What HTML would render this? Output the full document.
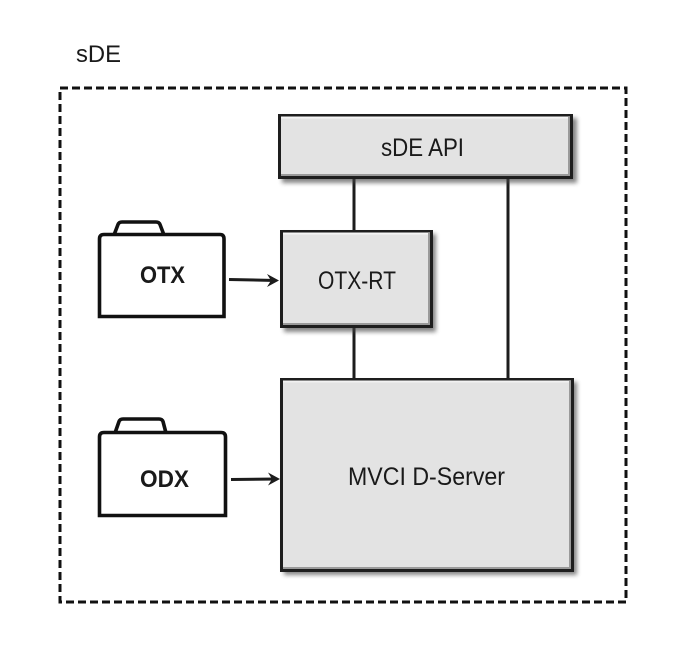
<!DOCTYPE html>
<html>
<head>
<meta charset="utf-8">
<style>
html,body{margin:0;padding:0;background:#fff;width:673px;height:649px;overflow:hidden}
svg{display:block}
text{font-family:"Liberation Sans",sans-serif;fill:#1a1a1a}
</style>
</head>
<body>
<svg width="673" height="649" viewBox="0 0 673 649" xmlns="http://www.w3.org/2000/svg">
<defs>
<filter id="s" x="-10%" y="-10%" width="125%" height="125%">
<feGaussianBlur stdDeviation="2.200"/>
</filter>
</defs>
<rect width="673" height="649" fill="#fff"/>
<text x="76" y="62" font-size="24" textLength="45" lengthAdjust="spacingAndGlyphs">sDE</text>
<rect x="60" y="88" width="566" height="514" fill="none" stroke="#111" stroke-width="3" stroke-dasharray="8 4"/>

<!-- connectors -->
<path d="M354 179V230M354 328V378M508 179V378" stroke="#1c1c1c" stroke-width="3" fill="none"/>

<!-- sDE API -->
<rect x="282" y="118" width="295" height="65" fill="#444" opacity=".65" filter="url(#s)"/>
<rect x="279.500" y="115.500" width="292" height="62" fill="#e3e3e3" stroke="#1e1e1e" stroke-width="3"/>
<path d="M281 117.500H570" stroke="#f5f5f5" stroke-width="2"/>
<path d="M281 175H570M569 117V176" stroke="#9a9a9a" stroke-width="2"/>
<text x="381" y="156" font-size="25" textLength="83" lengthAdjust="spacingAndGlyphs">sDE API</text>

<!-- OTX-RT -->
<rect x="284" y="234" width="152" height="98" fill="#444" opacity=".65" filter="url(#s)"/>
<rect x="281.500" y="231.500" width="150" height="95" fill="#e3e3e3" stroke="#1e1e1e" stroke-width="3"/>
<path d="M283 233.500H430" stroke="#f5f5f5" stroke-width="2"/>
<path d="M283 324H430M429 233V325" stroke="#9a9a9a" stroke-width="2"/>
<text x="318" y="289" font-size="25" textLength="78" lengthAdjust="spacingAndGlyphs">OTX-RT</text>

<!-- MVCI -->
<rect x="284" y="382" width="293" height="193" fill="#444" opacity=".65" filter="url(#s)"/>
<rect x="281.500" y="379.500" width="291" height="191" fill="#e3e3e3" stroke="#1e1e1e" stroke-width="3"/>
<path d="M283 381.500H571" stroke="#f2f2f2" stroke-width="2"/>
<path d="M283 568H571M570 381V569" stroke="#9a9a9a" stroke-width="2"/>
<text x="348" y="485" font-size="25" textLength="157" lengthAdjust="spacingAndGlyphs">MVCI D-Server</text>

<!-- OTX folder -->
<path d="M114 235L118 224.500Q119 222 122 222H156Q159 222 160 224.500L164 235" fill="#fff" stroke="#111" stroke-width="3.600"/>
<path d="M99.500 316.500V239Q99.500 234.500 104 234.500H220Q224 234.500 224 239V316.500Z" fill="#fff" stroke="#111" stroke-width="3.600"/>
<text x="140" y="283" font-size="24" font-weight="bold" textLength="45" lengthAdjust="spacingAndGlyphs">OTX</text>
<path d="M229 279.500L276 280.500" stroke="#1c1c1c" stroke-width="3"/>
<path d="M267 274L279 280.500L267 287L271 280.500Z" fill="#1c1c1c"/>

<!-- ODX folder -->
<path d="M115 433L119 421.500Q120 419 123 419H159Q162 419 163 421.500L166 433" fill="#fff" stroke="#111" stroke-width="3.600"/>
<path d="M99.500 515.500V437Q99.500 432.500 104 432.500H221Q225.500 432.500 225.500 437V515.500Z" fill="#fff" stroke="#111" stroke-width="3.600"/>
<text x="140" y="487" font-size="24" font-weight="bold" textLength="49" lengthAdjust="spacingAndGlyphs">ODX</text>
<path d="M231 479.500L277 479" stroke="#1c1c1c" stroke-width="3"/>
<path d="M268 472.500L280 479L268 485.500L272 479Z" fill="#1c1c1c"/>
</svg>
</body>
</html>
